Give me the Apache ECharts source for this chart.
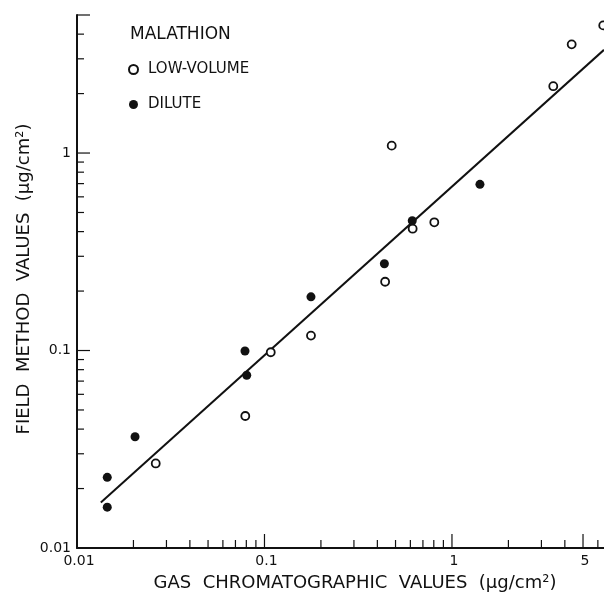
<!DOCTYPE html>
<html>
<head>
<meta charset="utf-8">
<script src="https://cdn.jsdelivr.net/npm/echarts@6/dist/echarts.min.js"></script>
<style>
  html, body { margin: 0; padding: 0; background: #fff; }
  #chart { width: 604px; height: 596px; }
</style>
</head>
<body>
<div id="chart"></div>
<script>
// values (log-log, ug/cm2)
var lowVolumeX = [0.0263, 0.079, 0.108, 0.177, 0.44, 0.477, 0.617, 0.805, 3.47, 4.35, 6.41];
var lowVolumeY = [0.0268, 0.0466, 0.098, 0.119, 0.223, 1.09, 0.414, 0.446, 2.18, 3.55, 4.43];
var diluteX = [0.0145, 0.0145, 0.0204, 0.0787, 0.0804, 0.177, 0.436, 0.614, 1.41];
var diluteY = [0.0228, 0.0161, 0.0366, 0.0995, 0.0749, 0.187, 0.275, 0.454, 0.694];
var fitX = [0.0134, 6.47];
var fitY = [0.017, 3.33];

// axis ticks / labels
var xMajorTicks = [0.1, 1, 5];
var xMinorTicks = [0.02, 0.03, 0.04, 0.05, 0.06, 0.07, 0.08, 0.09,
  0.2, 0.3, 0.4, 0.5, 0.6, 0.7, 0.8, 0.9, 2, 3, 4, 6];
var xTickLabels = [0.01, 0.1, 1, 5];
var yMajorTicks = [0.1, 1, 5];
var yMinorTicks = [0.02, 0.03, 0.04, 0.05, 0.06, 0.07, 0.08, 0.09,
  0.2, 0.3, 0.4, 0.5, 0.6, 0.7, 0.8, 0.9, 2, 3, 4];
var yTickLabels = [0.01, 0.1, 1];

var X_MIN = 0.01, X_MAX = 6.47, Y_MIN = 0.01, Y_MAX = 5;
var FONT = "DejaVu Sans";

function pairs(xs, ys) {
  return xs.map(function (x, i) { return [x, ys[i]]; });
}

function labelText(v) {
  return String(v);
}

var chart = echarts.init(document.getElementById("chart"));

var option = {
  backgroundColor: "#fff",
  animation: false,
  textStyle: { fontFamily: FONT, color: "#111" },
  title: {
    text: "MALATHION",
    left: 125,
    top: 21,
    textStyle: { fontFamily: FONT, fontSize: 17, fontWeight: "normal", color: "#111" }
  },
  legend: {
    orient: "vertical",
    left: 123,
    top: 57,
    itemWidth: 9,
    itemHeight: 9,
    itemGap: 20,
    data: [
      { name: "LOW-VOLUME", icon: "circle" },
      { name: "DILUTE", icon: "circle" }
    ],
    textStyle: { fontFamily: FONT, fontSize: 15, color: "#111", padding: [0, 0, 0, 5] }
  },
  grid: { left: 77, right: 0, top: 15, bottom: 48 },
  xAxis: {
    type: "log",
    logBase: 10,
    min: X_MIN,
    max: X_MAX,
    axisLine: { lineStyle: { color: "#111", width: 2 } },
    axisTick: { show: false },
    axisLabel: { show: false },
    splitLine: { show: false }
  },
  yAxis: {
    type: "log",
    logBase: 10,
    min: Y_MIN,
    max: Y_MAX,
    axisLine: { lineStyle: { color: "#111", width: 2 } },
    axisTick: { show: false },
    axisLabel: { show: false },
    splitLine: { show: false }
  },
  graphic: [
    {
      type: "text",
      x: 355,
      y: 583,
      style: {
        text: "GAS  CHROMATOGRAPHIC  VALUES  (\u03bcg/cm\u00b2)",
        font: "18px " + FONT,
        fill: "#111",
        align: "center",
        verticalAlign: "middle"
      }
    },
    {
      type: "text",
      x: 24,
      y: 279,
      rotation: Math.PI / 2,
      style: {
        text: "FIELD  METHOD  VALUES  (\u03bcg/cm\u00b2)",
        font: "18px " + FONT,
        fill: "#111",
        align: "center",
        verticalAlign: "middle"
      }
    }
  ],
  series: [
    {
      name: "fit",
      type: "line",
      data: pairs(fitX, fitY),
      showSymbol: false,
      silent: true,
      lineStyle: { color: "#111", width: 2 },
      z: 1
    },
    {
      name: "LOW-VOLUME",
      type: "scatter",
      data: pairs(lowVolumeX, lowVolumeY),
      symbol: "circle",
      symbolSize: 8,
      itemStyle: { color: "#fff", borderColor: "#111", borderWidth: 1.8, opacity: 1 },
      z: 3
    },
    {
      name: "DILUTE",
      type: "scatter",
      data: pairs(diluteX, diluteY),
      symbol: "circle",
      symbolSize: 9,
      itemStyle: { color: "#111", opacity: 1 },
      z: 3
    },
    // x axis ticks, pointing up into the plot
    {
      type: "custom",
      silent: true,
      data: xMajorTicks.map(function (v) { return [v, Y_MIN, 14]; })
        .concat(xMinorTicks.map(function (v) { return [v, Y_MIN, 8]; })),
      renderItem: function (params, api) {
        var p = api.coord([api.value(0), api.value(1)]);
        return {
          type: "line",
          shape: { x1: p[0], y1: p[1], x2: p[0], y2: p[1] - api.value(2) },
          style: { stroke: "#111", lineWidth: 1.2 }
        };
      }
    },
    // y axis ticks, pointing right
    {
      type: "custom",
      silent: true,
      data: yMajorTicks.map(function (v) { return [X_MIN, v, 13]; })
        .concat(yMinorTicks.map(function (v) { return [X_MIN, v, 7]; })),
      renderItem: function (params, api) {
        var p = api.coord([api.value(0), api.value(1)]);
        return {
          type: "line",
          shape: { x1: p[0], y1: p[1], x2: p[0] + api.value(2), y2: p[1] },
          style: { stroke: "#111", lineWidth: 1.2 }
        };
      }
    },
    // tick labels
    {
      type: "custom",
      silent: true,
      data: xTickLabels.map(function (v) { return [v, Y_MIN]; }),
      renderItem: function (params, api) {
        var p = api.coord([api.value(0), api.value(1)]);
        return {
          type: "text",
          x: p[0] + 2,
          y: p[1] + 6,
          style: {
            text: labelText(api.value(0)),
            font: "14px " + FONT,
            fill: "#111",
            align: "center",
            verticalAlign: "top"
          }
        };
      }
    },
    {
      type: "custom",
      silent: true,
      data: yTickLabels.map(function (v) { return [X_MIN, v]; }),
      renderItem: function (params, api) {
        var p = api.coord([api.value(0), api.value(1)]);
        return {
          type: "text",
          x: p[0] - 6,
          y: p[1],
          style: {
            text: labelText(api.value(1)),
            font: "14px " + FONT,
            fill: "#111",
            align: "right",
            verticalAlign: "middle"
          }
        };
      }
    }
  ]
};

chart.setOption(option);
</script>
</body>
</html>
